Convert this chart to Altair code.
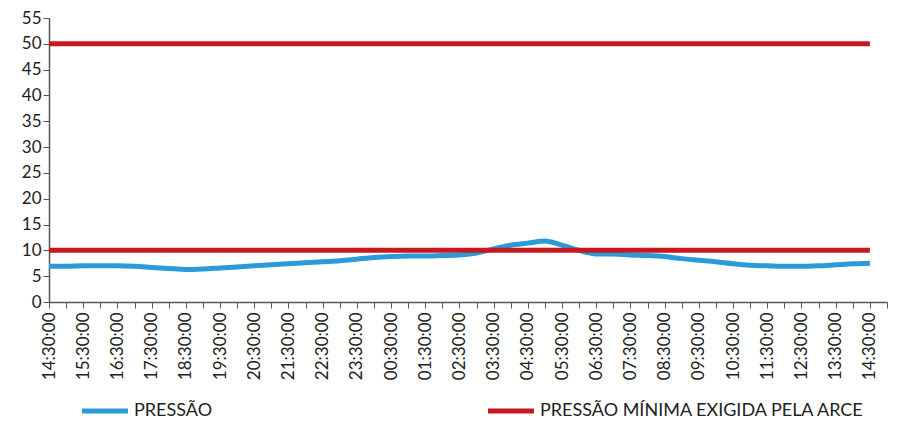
import altair as alt
import pandas as pd

horarios = [
    "14:30:00", "15:00:00", "15:30:00", "16:00:00", "16:30:00", "17:00:00",
    "17:30:00", "18:00:00", "18:30:00", "19:00:00", "19:30:00", "20:00:00",
    "20:30:00", "21:00:00", "21:30:00", "22:00:00", "22:30:00", "23:00:00",
    "23:30:00", "00:00:00", "00:30:00", "01:00:00", "01:30:00", "02:00:00",
    "02:30:00", "03:00:00", "03:30:00", "04:00:00", "04:30:00", "05:00:00",
    "05:30:00", "06:00:00", "06:30:00", "07:00:00", "07:30:00", "08:00:00",
    "08:30:00", "09:00:00", "09:30:00", "10:00:00", "10:30:00", "11:00:00",
    "11:30:00", "12:00:00", "12:30:00", "13:00:00", "13:30:00", "14:00:00",
    "14:30:00 ", "15:00:00 ",
]

pressao = [
    6.9, 6.9, 7.0, 7.0, 7.0, 6.9, 6.7, 6.5, 6.3, 6.4,
    6.6, 6.8, 7.0, 7.2, 7.4, 7.6, 7.8, 8.0, 8.3, 8.6,
    8.8, 8.9, 8.9, 9.0, 9.1, 9.5, 10.3, 11.0, 11.4, 11.8,
    11.0, 10.0, 9.3, 9.3, 9.1, 9.0, 8.8, 8.4, 8.1, 7.8,
    7.4, 7.1, 7.0, 6.9, 6.9, 7.0, 7.2, 7.4, 7.5,
]

limites = [10, 50]

SERIE_P = "PRESSÃO"
SERIE_L = "PRESSÃO MÍNIMA EXIGIDA PELA ARCE"

rows = []
for i, v in enumerate(pressao):
    rows.append({"hora": horarios[i], "valor": v, "serie": SERIE_P, "linha": "p", "ordem": i})
for j, lim in enumerate(limites):
    for k in (0, len(pressao) - 1):
        rows.append({"hora": horarios[k], "valor": lim, "serie": SERIE_L, "linha": f"l{j}", "ordem": k})
df = pd.DataFrame(rows)

FONT = "Lato"

chart = alt.Chart(df).mark_line(strokeWidth=5, interpolate="monotone").encode(
    x=alt.X(
        "hora:N",
        scale=alt.Scale(domain=horarios, type="point", padding=0),
        sort=horarios,
        axis=alt.Axis(
            title=None,
            labelAngle=-90,
            labelExpr="slice(datum.label, 3, 5) == '30' ? datum.label : ''",
            labelFontSize=17,
            labelFont=FONT,
            labelColor="#222222",
            labelPadding=4,
            tickSize=6,
            tickColor="#555555",
            domainColor="#555555",
            domainWidth=1.5,
            grid=False,
        ),
    ),
    y=alt.Y(
        "valor:Q",
        scale=alt.Scale(domain=[0, 55], nice=False),
        axis=alt.Axis(
            title=None,
            values=list(range(0, 56, 5)),
            labelFontSize=17,
            labelFont=FONT,
            labelColor="#222222",
            labelPadding=2,
            tickSize=6,
            tickColor="#555555",
            domainColor="#555555",
            domainWidth=1.5,
            grid=False,
        ),
    ),
    color=alt.Color(
        "serie:N",
        scale=alt.Scale(domain=[SERIE_P, SERIE_L], range=["#2a9ad8", "#c8171e"]),
        legend=alt.Legend(
            title=None,
            orient="none",
            direction="horizontal",
            legendX=47,
            legendY=384,
            symbolType="M-4,0L4,0",
            symbolSize=132,
            symbolStrokeWidth=5,
            labelFontSize=18,
            labelFont=FONT,
            labelColor="#222222",
            labelOffset=20,
            labelLimit=0,
            columnPadding=265,
        ),
    ),
    detail="linha:N",
    order="ordem:Q",
).properties(
    width=838,
    height=284,
    padding={"left": 41, "top": 10, "right": 2, "bottom": 117},
    autosize=alt.AutoSizeParams(type="none"),
    background="white",
).configure_view(stroke=None)

chart.save("out.html", embed_options={"renderer": "svg", "actions": False})
